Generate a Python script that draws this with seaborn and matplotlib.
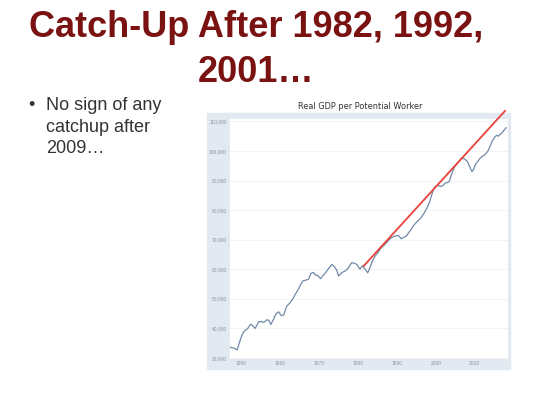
import matplotlib
matplotlib.use("Agg")
import matplotlib.pyplot as plt
import seaborn as sns
import pandas as pd
from matplotlib.patches import Rectangle
from matplotlib.ticker import FuncFormatter

# Données (année, PIB réel par travailleur potentiel)
annees = [1947.0, 1947.6, 1948.3, 1949.0, 1949.5, 1950.0, 1950.5, 1951.0, 1951.6, 1952.4,
          1953.0, 1953.6, 1954.5, 1955.2, 1955.8, 1956.6, 1957.1, 1957.6, 1958.3, 1958.9,
          1959.6, 1960.3, 1960.9, 1961.7, 1962.5, 1963.2, 1963.8, 1964.6, 1965.2, 1965.8,
          1966.6, 1967.3, 1967.9, 1968.6, 1969.1, 1969.6, 1970.4, 1971.0, 1971.7, 1972.5,
          1973.3, 1974.0, 1974.6, 1975.0, 1975.9, 1976.7, 1977.4, 1978.4, 1979.1, 1979.7,
          1980.5, 1981.1, 1981.7, 1982.5, 1983.1, 1983.7, 1984.4, 1985.2, 1986.0, 1986.8,
          1987.7, 1988.5, 1989.4, 1990.4, 1991.1, 1991.8, 1992.4, 1993.0, 1993.6, 1994.3,
          1994.9, 1995.5, 1996.2, 1996.8, 1997.5, 1998.3, 1999.1, 1999.7, 2000.3, 2000.8,
          2001.3, 2001.8, 2002.5, 2003.0, 2003.5, 2004.2, 2004.8, 2005.5, 2006.2, 2006.7,
          2007.2, 2007.6, 2008.0, 2008.4, 2008.9, 2009.3, 2009.7, 2010.1, 2010.8, 2011.4,
          2012.0, 2012.7, 2013.3, 2013.9, 2014.5, 2015.2, 2015.6, 2016.0, 2016.5, 2016.9,
          2017.5, 2018.1]
pib = [33.6, 33.5, 33.2, 32.7, 35.0, 37.0, 38.5, 39.3, 39.8, 41.4,
       40.8, 40.0, 42.2, 42.3, 42.0, 42.9, 42.7, 41.3, 43.0, 44.8,
       45.6, 44.3, 44.5, 47.5, 48.6, 49.8, 51.3, 53.0, 54.6, 56.0,
       56.3, 56.6, 58.6, 58.9, 58.0, 57.9, 56.8, 57.8, 58.9, 60.3,
       61.6, 60.8, 59.5, 57.7, 58.9, 59.4, 60.2, 62.2, 62.0, 61.6,
       60.0, 61.1, 60.2, 58.8, 60.6, 62.8, 64.4, 65.8, 67.3, 68.2,
       69.5, 70.6, 71.2, 71.4, 70.3, 70.8, 71.2, 72.3, 73.4, 74.8,
       75.7, 76.5, 77.4, 78.6, 80.2, 82.4, 85.8, 87.8, 88.3, 88.2,
       88.0, 88.3, 89.2, 89.3, 89.8, 92.8, 94.6, 95.9, 96.8, 97.6,
       97.4, 97.0, 96.6, 95.6, 94.0, 93.0, 93.8, 95.3, 96.5, 97.6,
       98.2, 98.9, 99.8, 101.5, 103.4, 104.8, 105.3, 105.0, 105.6, 106.0,
       107.0, 107.9]
pib = [v * 1000 for v in pib]

# Tendance de rattrapage (ligne rouge)
tendance_annees = [1981.4, 2017.8]
tendance_pib = [61000, 113600]

y_ticks = [30000, 40000, 50000, 60000, 70000, 80000, 90000, 100000, 110000]
x_ticks = [1950, 1960, 1970, 1980, 1990, 2000, 2010]

df = pd.DataFrame({'Annee': annees, 'PIB': pib})
df_tendance = pd.DataFrame({'Annee': tendance_annees, 'PIB': tendance_pib})

sns.set_style("white")
plt.rcParams['font.family'] = ['Liberation Sans', 'DejaVu Sans']

fig = plt.figure(figsize=(5.4, 4.05), dpi=100)
W, H = 540, 405

# Titre de la diapositive
titre_kw = dict(ha='center', va='baseline', fontsize=26, weight='bold', color='#7a1212')
fig.text(256 / W, 1 - 36.7 / H, "Catch-Up After 1982, 1992,", **titre_kw)
fig.text(256 / W, 1 - 81.7 / H, "2001…", **titre_kw)

# Puce
puce_kw = dict(ha='left', va='baseline', fontsize=13, color='#333333')
fig.text(28 / W, 1 - 110 / H, "•", **puce_kw)
for i, ligne in enumerate(["No sign of any", "catchup after", "2009…"]):
    fig.text(46 / W, 1 - (110 + 21.7 * i) / H, ligne, **puce_kw)

# Fond du cadre du graphique (derrière les axes)
fig.patches.append(Rectangle((207 / W, 1 - 369 / H), (510 - 207) / W, (369 - 113) / H,
                             transform=fig.transFigure, color='#e2e9f0', zorder=-5))
fig.text(360 / W, 1 - 106.5 / H, "Real GDP per Potential Worker", ha='center', va='center',
         fontsize=6.6, color='#333333', family='DejaVu Sans', fontstretch='condensed')

ax = fig.add_axes([229.5 / W, 1 - 358.5 / H, (507.5 - 229.5) / W, (358.5 - 119) / H])
ax.set_facecolor('white')

sns.lineplot(data=df, x='Annee', y='PIB', ax=ax, color='#7189a8', linewidth=0.9)
sns.lineplot(data=df_tendance, x='Annee', y='PIB', ax=ax, color='#e8423b', linewidth=1.3)
ax.lines[-1].set_clip_on(False)

ax.set_xlim(1947.0, 2018.4)
ax.set_ylim(29800, 110800)
ax.set_yticks(y_ticks)
ax.set_xticks(x_ticks)
ax.yaxis.set_major_formatter(FuncFormatter(lambda v, p: f"{int(v):,}"))
ax.tick_params(length=0, labelsize=3.5, labelcolor='#8a94a0', pad=2)
ax.set_xlabel("")
ax.set_ylabel("")
ax.grid(axis='y', color='#eef2f6', linewidth=0.6)
for s in ax.spines.values():
    s.set_visible(False)

plt.savefig("out.png", dpi=100)
